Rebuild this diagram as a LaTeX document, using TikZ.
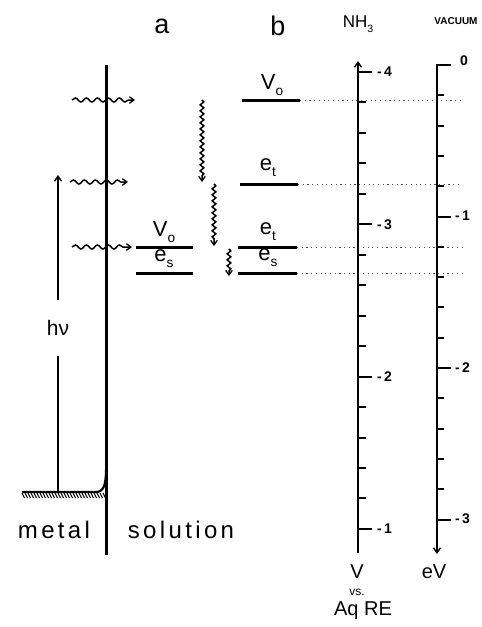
\documentclass[tikz,border=0pt]{standalone}
\usepackage{fontspec}
\setmainfont{Liberation Sans}
\usetikzlibrary{arrows.meta,decorations.pathmorphing}
\newcommand\lowsub[1]{\raisebox{-0.28em}{\scalebox{0.62}{#1}}}
\begin{document}
\begin{tikzpicture}[x=1pt,y=-1pt,
  bar/.style={line width=3pt},
  levelline/.style={line width=3pt},
  axisline/.style={line width=2.8pt},
  tickmark/.style={line width=2pt},
  tip/.style={-{Straight Barb[length=5pt,width=7pt,line width=1.4pt]}},
  wavy/.style={line width=1.5pt, decorate,
    decoration={snake, amplitude=2pt, segment length=11pt, post length=6pt},
    -{Straight Barb[length=4.5pt,width=6.5pt,line width=1.3pt]}},
  vwavy/.style={wavy, decoration={snake, amplitude=1.8pt, segment length=6pt, post length=5pt}},
  dotline/.style={line width=0.8pt, black!70, dash pattern=on 1.2pt off 3.5pt},
  big/.style={font=\fontsize{24}{26}\selectfont\addfontfeature{LetterSpace=14}, inner sep=0pt},
  title/.style={font=\fontsize{27}{29}\selectfont, inner sep=0pt},
  lvl/.style={font=\fontsize{22}{24}\selectfont, inner sep=0pt},
  num/.style={font=\fontsize{14}{16}\selectfont\bfseries, inner sep=0pt},
  axlbl/.style={font=\fontsize{20}{22}\selectfont, inner sep=0pt}]
\useasboundingbox (0,0) rectangle (482,627);

% titles
\node[title] (ta) at (162,26) {a};
\node[title] (tb) at (278,26) {b};
\node[font=\fontsize{17}{18}\selectfont, inner sep=0pt] (tnh) at (358,24) {NH\lowsub{3}};
\node[font=\fontsize{10}{12}\selectfont\bfseries, inner sep=0pt] (tvac) at (456,21) {VACUUM};

% interface
\coordinate (ifTop) at (106,65);
\coordinate (ifBot) at (106,555);
\draw[bar] (ifTop) -- (ifBot);

% metal Fermi level
\coordinate (mL) at (22,492);
\coordinate (mJ) at (106,470);
\draw[line width=2.2pt] (mL) -- (96,492) .. controls (103,492) and (106,486) .. (mJ);
\foreach \x in {22,25,...,103} \draw[line width=1pt] (\x,493) -- ++(2.5,5);

\node[big] (metal) at (54,530) {metal};
\node[big] (solution) at (181,530) {solution};

% h nu arrow
\coordinate (hvBot) at (58,492);
\coordinate (hvTop) at (58,175);
\node[font=\fontsize{21}{23}\selectfont, inner sep=0pt, minimum height=56pt] (hnu) at (58,328) {hν};
\draw[line width=2.4pt] (hvBot) -- (hnu);
\draw[line width=2.4pt, tip] (hnu) -- (hvTop);

% horizontal wavy arrows
\coordinate (w1s) at (72,100);  \coordinate (w1e) at (135,100);
\coordinate (w2s) at (70,182);  \coordinate (w2e) at (128,182);
\coordinate (w3s) at (72,247);  \coordinate (w3e) at (132,247);
\draw[wavy] (w1s) -- (w1e);
\draw[wavy] (w2s) -- (w2e);
\draw[wavy] (w3s) -- (w3e);

% levels a
\coordinate (aV1) at (136,247); \coordinate (aV2) at (193,247);
\coordinate (aS1) at (136,273); \coordinate (aS2) at (193,273);
\draw[levelline] (aV1) -- (aV2);
\draw[levelline] (aS1) -- (aS2);
\node[lvl] (laV) at (164,232) {V\lowsub{o}};
\node[lvl] (laS) at (164,259) {e\lowsub{s}};

% vertical wavy arrows
\coordinate (v1s) at (202,100); \coordinate (v1e) at (202,182);
\coordinate (v2s) at (214,184); \coordinate (v2e) at (214,246);
\coordinate (v3s) at (229,249); \coordinate (v3e) at (229,276);
\draw[vwavy] (v1s) -- (v1e);
\draw[vwavy] (v2s) -- (v2e);
\draw[vwavy] (v3s) -- (v3e);

% levels b
\coordinate (bV1) at (242,100); \coordinate (bV2) at (300,100);
\coordinate (bT1) at (240,184); \coordinate (bT2) at (298,184);
\coordinate (bU1) at (238,247); \coordinate (bU2) at (297,247);
\coordinate (bS1) at (238,273); \coordinate (bS2) at (297,273);
\draw[levelline] (bV1) -- (bV2);
\draw[levelline] (bT1) -- (bT2);
\draw[levelline] (bU1) -- (bU2);
\draw[levelline] (bS1) -- (bS2);
\node[lvl] (lbV) at (272,85) {V\lowsub{o}};
\node[lvl] (lbT) at (268,168) {e\lowsub{t}};
\node[lvl] (lbU) at (268,232) {e\lowsub{t}};
\node[lvl] (lbS) at (268,258) {e\lowsub{s}};

% dotted guides
\coordinate (dV) at (462,100);
\coordinate (dT) at (462,184);
\coordinate (dU) at (462,247);
\coordinate (dS) at (462,273);
\draw[dotline] (bV2) -- (dV);
\draw[dotline] (bT2) -- (dT);
\draw[dotline] (bU2) -- (dU);
\draw[dotline] (bS2) -- (dS);

% NH3 axis
\coordinate (nTop) at (358,61);
\coordinate (nBot) at (358,553);
\draw[axisline, tip] (nBot) -- (nTop);
\foreach \k in {0,...,15} {
  \pgfmathsetmacro\yy{72+30.46*\k}
  \draw[tickmark] (358,\yy) -- (366,\yy);
}
\foreach \k/\lab in {0/4,1/3,2/2,3/1} {
  \pgfmathsetmacro\yy{72+152.3*\k}
  \draw[tickmark] (358,\yy) -- (372,\yy);
  \node[num, anchor=west] at (377,\yy) {-\,\lab};
}

% vacuum axis
\coordinate (vTop) at (437,65);
\coordinate (vBot) at (437,554);
\draw[axisline, tip] (vTop) -- (vBot);
\draw[tickmark] (436,65) -- (451,65);
\foreach \k in {1,...,15} {
  \pgfmathsetmacro\yy{65+30.3*\k}
  \draw[tickmark] (437,\yy) -- (444,\yy);
}
\foreach \k in {1,2,3} {
  \pgfmathsetmacro\yy{65+151.5*\k}
  \draw[tickmark] (437,\yy) -- (451,\yy);
}
\node[num] at (464,61) {0};
\node[num, anchor=west] at (455,216) {-\,1};
\node[num, anchor=west] at (455,368) {-\,2};
\node[num, anchor=west] at (455,519) {-\,3};

% axis labels
\node[axlbl] (lV) at (357,572) {V};
\node[font=\fontsize{12}{13}\selectfont, inner sep=0pt] (lvs) at (357,592) {vs.};
\node[axlbl] (lAq) at (363,611) {Aq RE};
\node[axlbl] (leV) at (434,572) {eV};
\end{tikzpicture}
\end{document}
